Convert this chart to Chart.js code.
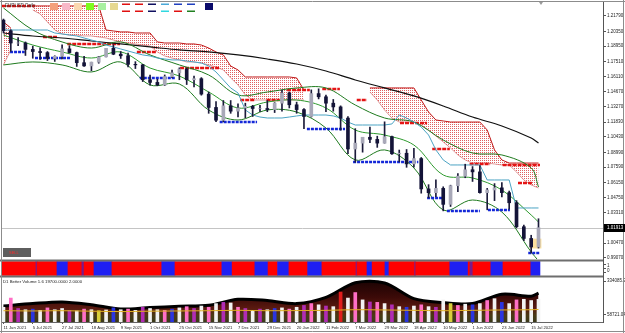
<!DOCTYPE html>
<html lang="en">
<head>
<meta charset="utf-8">
<title>EURUSD Daily</title>
<script src="https://cdn.jsdelivr.net/npm/chart.js@4.4.1/dist/chart.umd.min.js"></script>
<style>
  html, body { margin: 0; padding: 0; background: #ffffff; }
  #chart-wrap { position: relative; width: 625px; height: 333px; overflow: hidden; background: #ffffff; }
  #chart-wrap canvas { position: absolute; left: 0; }
</style>
</head>
<body>
<div id="chart-wrap">
  <canvas id="price-chart" width="625" height="260" style="top:0"></canvas>
  <canvas id="signal-chart" width="625" height="19" style="top:259px"></canvas>
  <canvas id="volume-chart" width="625" height="56" style="top:277px"></canvas>
</div>
<script>
// x labels, one every 4 samples (a sample = 4 daily bars)
const dateLabels = ["11 Jun 2021", "5 Jul 2021", "27 Jul 2021", "18 Aug 2021", "9 Sep 2021", "1 Oct 2021",
  "25 Oct 2021", "15 Nov 2021", "7 Dec 2021", "29 Dec 2021", "20 Jan 2022", "11 Feb 2022", "7 Mar 2022",
  "29 Mar 2022", "18 Apr 2022", "10 May 2022", "1 Jun 2022", "23 Jun 2022", "15 Jul 2022"];

const priceTicks = [1.21790, 1.20350, 1.18950, 1.17510, 1.16110, 1.14670, 1.13270, 1.11830, 1.10430,
  1.08990, 1.07590, 1.06150, 1.04750, 1.03310, 1.00470, 0.99070];

const opens = [1.2140, 1.2040, 1.1925, 1.1925, 1.1865, 1.1845, 1.1835, 1.1780, 1.1800, 1.1870, 1.1835, 1.1740,
  1.1710, 1.1745, 1.1795, 1.1875, 1.1820, 1.1805, 1.1725, 1.1720, 1.1580, 1.1555, 1.1530, 1.1610, 1.1645,
  1.1680, 1.1580, 1.1590, 1.1445, 1.1320, 1.1200, 1.1335, 1.1285, 1.1315, 1.1330, 1.1310, 1.1310, 1.1300,
  1.1360, 1.1455, 1.1345, 1.1300, 1.1235, 1.1450, 1.1420, 1.1360, 1.1325, 1.1220, 1.0930, 1.0985, 1.1040,
  1.1020, 1.0985, 1.1045, 1.0885, 1.0890, 1.0790, 1.0840, 1.0555, 1.0520, 1.0560, 1.0410, 1.0585, 1.0675,
  1.0735, 1.0715, 1.0520, 1.0545, 1.0565, 1.0520, 1.0425, 1.0200, 1.0090, 1.0010];
const highs = [1.2150, 1.2050, 1.1975, 1.1935, 1.1895, 1.1880, 1.1845, 1.1805, 1.1909, 1.1900, 1.1840, 1.1800,
  1.1745, 1.1800, 1.1875, 1.1909, 1.1845, 1.1830, 1.1750, 1.1725, 1.1625, 1.1585, 1.1625, 1.1670, 1.1692,
  1.1690, 1.1615, 1.1600, 1.1465, 1.1375, 1.1385, 1.1385, 1.1355, 1.1360, 1.1340, 1.1340, 1.1385, 1.1365,
  1.1482, 1.1465, 1.1370, 1.1310, 1.1485, 1.1495, 1.1435, 1.1395, 1.1335, 1.1235, 1.1121, 1.1035, 1.1135,
  1.1050, 1.1185, 1.1050, 1.0920, 1.0925, 1.0935, 1.0850, 1.0595, 1.0640, 1.0575, 1.0590, 1.0700, 1.0787,
  1.0765, 1.0775, 1.0560, 1.0605, 1.0615, 1.0535, 1.0445, 1.0215, 1.0120, 1.0275];
const lows = [1.2020, 1.1847, 1.1900, 1.1808, 1.1782, 1.1772, 1.1760, 1.1752, 1.1775, 1.1830, 1.1705, 1.1705,
  1.1664, 1.1735, 1.1795, 1.1815, 1.1780, 1.1700, 1.1685, 1.1563, 1.1530, 1.1524, 1.1525, 1.1600, 1.1580,
  1.1535, 1.1512, 1.1435, 1.1265, 1.1186, 1.1185, 1.1265, 1.1230, 1.1222, 1.1235, 1.1280, 1.1280, 1.1272,
  1.1285, 1.1315, 1.1265, 1.1121, 1.1230, 1.1400, 1.1280, 1.1285, 1.1106, 1.0885, 1.0806, 1.0900, 1.0990,
  1.0945, 1.0985, 1.0880, 1.0810, 1.0758, 1.0760, 1.0515, 1.0471, 1.0483, 1.0349, 1.0390, 1.0530, 1.0660,
  1.0625, 1.0515, 1.0359, 1.0445, 1.0480, 1.0365, 1.0190, 1.0070, 0.9952, 1.0000];
const closes = [1.2040, 1.1925, 1.1925, 1.1865, 1.1845, 1.1835, 1.1780, 1.1800, 1.1870, 1.1835, 1.1740, 1.1710,
  1.1745, 1.1795, 1.1875, 1.1820, 1.1805, 1.1725, 1.1720, 1.1580, 1.1555, 1.1530, 1.1610, 1.1645, 1.1680,
  1.1580, 1.1590, 1.1445, 1.1320, 1.1200, 1.1335, 1.1285, 1.1315, 1.1330, 1.1310, 1.1310, 1.1300, 1.1360,
  1.1455, 1.1345, 1.1300, 1.1235, 1.1450, 1.1420, 1.1360, 1.1325, 1.1220, 1.0930, 1.0985, 1.1040, 1.1020,
  1.0985, 1.1045, 1.0885, 1.0890, 1.0790, 1.0840, 1.0555, 1.0520, 1.0560, 1.0410, 1.0585, 1.0675, 1.0735,
  1.0715, 1.0520, 1.0545, 1.0565, 1.0520, 1.0425, 1.0200, 1.0090, 1.0010, 1.01913];

// sample index of each reading in the indicator lists below
const keyBars = [0, 4, 8, 12, 16, 20, 24, 28, 32, 36, 40, 44, 48, 52, 56, 60, 64, 68, 72, 73];
const slowMa = [1.2019, 1.1991, 1.1972, 1.1944, 1.1916, 1.1888, 1.1860, 1.1841, 1.1813, 1.1775, 1.1728,
  1.1662, 1.1578, 1.1503, 1.1428, 1.1334, 1.1230, 1.1146, 1.1033, 1.0986];
const bandUpper = [1.2254, 1.2047, 1.1935, 1.1878, 1.1935, 1.1813, 1.1719, 1.1625, 1.1437, 1.1465, 1.1503,
  1.1503, 1.1343, 1.1221, 1.1183, 1.1014, 1.0892, 1.0874, 1.0752, 1.0573];
const bandMid = [1.2000, 1.1906, 1.1841, 1.1784, 1.1841, 1.1690, 1.1615, 1.1465, 1.1315, 1.1371, 1.1390,
  1.1315, 1.1108, 1.1061, 1.0967, 1.0686, 1.0658, 1.0545, 1.0310, 1.0244];
const bandLower = [1.1719, 1.1747, 1.1719, 1.1653, 1.1747, 1.1531, 1.1540, 1.1296, 1.1202, 1.1296, 1.1277,
  1.1127, 1.0827, 1.0921, 1.0752, 1.0357, 1.0451, 1.0338, 0.9963, 0.9880];

// light blue base line, one value per sample
const baseLine = [1.2047, 1.2047, 1.2047, 1.2047, 1.2047, 1.2047, 1.2047,
  1.2019, 1.2010, 1.2000, 1.1991, 1.1972, 1.1953, 1.1935,
  1.1906, 1.1888, 1.1869, 1.1850, 1.1831, 1.1813, 1.1803,
  1.1784, 1.1775, 1.1766, 1.1766, 1.1756, 1.1747,
  1.1737, 1.1709, 1.1653, 1.1578, 1.1503, 1.1456,
  1.1296, 1.1249, 1.1230, 1.1221, 1.1221, 1.1221, 1.1230, 1.1240, 1.1249, 1.1249, 1.1249, 1.1249, 1.1240, 1.1221,
  1.1183, 1.1155, 1.1155, 1.1155, 1.1155, 1.1155, 1.1165,
  1.1249, 1.1221, 1.1183,
  1.1136, 1.1061, 1.0921, 1.0827,
  1.0780, 1.0780, 1.0780, 1.0780, 1.0780,
  1.0639, 1.0639, 1.0639, 1.0639,
  1.0376, 1.0376, 1.0376, 1.0376];

// dotted cloud, one value per sample (null = no cloud)
const cloudTop = [1.2122, 1.2066, null, null, 1.2273, 1.2273, 1.2273, 1.2273, 1.2273, 1.2273, 1.2273, 1.2273,
  1.2273, 1.2273, 1.2047, 1.2038, 1.2029, 1.2029, 1.2019, 1.2019, 1.2019, 1.1935, 1.1925, 1.1925, 1.1925,
  1.1916, 1.1916, 1.1906, 1.1878, 1.1841, 1.1813, 1.1709, 1.1672, 1.1606, 1.1606, 1.1606, 1.1606, 1.1606,
  1.1606, 1.1606, 1.1597, 1.1484, null, null, null, null, null, null, null, null, 1.1503, 1.1503, 1.1503,
  1.1503, 1.1503, 1.1503, 1.1503, 1.1390, 1.1277, 1.1202, 1.1193, 1.1183, 1.1183, 1.1183, 1.1183, 1.1183,
  1.1108, 1.0921, 1.0827, 1.0798, 1.0798, 1.0798, 1.0798, 1.0798];
const cloudBottom = [1.1719, 1.1860, null, null, 1.2235, 1.2198, 1.2122, 1.2047, 1.2010, 1.2000, 1.2000, 1.1991,
  1.1991, 1.1982, 1.1972, 1.1953, 1.1935, 1.1925, 1.1916, 1.1906, 1.1897, 1.1841, 1.1803, 1.1784, 1.1766,
  1.1747, 1.1747, 1.1737, 1.1719, 1.1700, 1.1672, 1.1597, 1.1531, 1.1437, 1.1390, 1.1390, 1.1390, 1.1390,
  1.1390, 1.1390, 1.1390, 1.1390, null, null, null, null, null, null, null, null, 1.1465, 1.1390, 1.1296,
  1.1221, 1.1183, 1.1183, 1.1183, 1.1155, 1.1108, 1.1052, 1.0996, 1.0939, 1.0874, 1.0827, 1.0798, 1.0798,
  1.0798, 1.0789, 1.0780, 1.0780, 1.0714, 1.0639, 1.0592, 1.0564];

// [from sample, to sample, price]
const supportLines = [[0.9, 2.9, 1.1841], [4.3, 9.1, 1.1784], [18.6, 23.4, 1.1597], [29.5, 34.6, 1.1183],
  [41.4, 46.6, 1.1118], [47.7, 56.6, 1.0808], [57.8, 60.0, 1.0470], [60.5, 65.0, 1.0348],
  [66.1, 69.1, 1.0357], [71.6, 73.2, 0.9953]];
const resistanceLines = [[-0.2, 4.3, 1.2273], [5.4, 7.3, 1.1982], [8.7, 15.9, 1.1916], [18.2, 20.9, 1.1841],
  [24.1, 29.5, 1.1690], [32.3, 34.3, 1.1390], [35.9, 37.7, 1.1390], [38.7, 41.8, 1.1484],
  [43.5, 45.9, 1.1493], [48.2, 49.6, 1.1390], [54.1, 57.8, 1.1174], [58.5, 60.9, 1.0930],
  [63.6, 66.4, 1.0789], [68.1, 73.2, 1.0780], [70.2, 72.1, 1.0611]];
const highlightBox = [72.6, 0.9999, 1.0085];

// signal strip: [from sample, to sample, state]  S = red, B = blue, X = purple divider
const signalRuns = [[-0.2, 4.43, "S"], [4.43, 4.6, "X"], [4.6, 7.3, "S"], [7.3, 8.8, "B"], [8.8, 10.7, "S"],
  [10.7, 11.0, "X"], [11.0, 12.35, "S"], [12.35, 14.8, "B"], [14.8, 21.6, "S"], [21.6, 23.4, "B"],
  [23.4, 29.8, "S"], [29.8, 31.2, "B"], [31.2, 34.3, "S"], [34.3, 36.1, "B"], [36.1, 37.4, "S"],
  [37.4, 38.95, "B"], [38.95, 41.5, "S"], [41.5, 43.45, "B"], [43.45, 48.1, "S"], [48.1, 48.25, "X"],
  [48.25, 49.6, "S"], [49.6, 50.3, "B"], [50.3, 52.05, "S"], [52.05, 52.6, "B"], [52.6, 56.1, "S"],
  [56.1, 56.25, "X"], [56.25, 60.9, "S"], [60.9, 63.4, "B"], [63.4, 63.65, "S"], [63.65, 64.05, "X"],
  [64.05, 66.5, "S"], [66.5, 68.15, "B"], [68.15, 71.95, "S"], [71.95, 73.2, "B"]];

const volumes = [120000, 195000, 110000, 100000, 105000, 95000, 115000, 100000,
  110000, 95000, 90000, 105000, 100000, 92000, 98000, 115000,
  100000, 105000, 95000, 120000, 110000, 100000, 95000, 105000,
  115000, 125000, 110000, 130000, 120000, 150000, 160000, 155000,
  120000, 110000, 95000, 105000, 100000, 110000, 115000, 105000,
  120000, 135000, 150000, 140000, 130000, 125000, 244000, 195000,
  240000, 180000, 163000, 160000, 150000, 140000, 125000, 120000,
  130000, 140000, 125000, 120000, 180000, 150000, 135000, 145000,
  140000, 150000, 175000, 190000, 160000, 150000, 180000, 185000,
  175000, 185000];
const volumeTypes = ["w", "p", "m", "w", "b", "w", "p", "w", "w", "m", "w", "p", "w", "y", "w", "b",
  "w", "p", "w", "m", "w", "w", "p", "b", "w", "p", "m", "w", "p", "w", "m", "w",
  "p", "m", "w", "m", "w", "b", "w", "p", "w", "m", "p", "w", "m", "w", "r", "w",
  "p", "w", "m", "p", "w", "m", "w", "b", "w", "p", "w", "m", "w", "y", "p", "w",
  "b", "w", "p", "w", "b", "w", "p", "w", "w", "w"];
const volumeEnvelope = [130000, 150000, 163000, 140000, 106000, 118000, 128000, 136000, 185000, 175000,
  150000, 200000, 320000, 318000, 190000, 158000, 150000, 226000, 210000, 236000];
const volumeAvg = [92000, 90000, 92000, 88000, 85000, 88000, 90000, 92000, 95000, 92000, 93000, 95000,
  100000, 98000, 95000, 92000, 95000, 98000, 100000, 102000];
const volumeTicks = [334085.91, 58721.04];

const X_MIN = -0.2;
const X_MAX = 81.8;
const SIGNAL_COLORS = { S: "#ff0000", B: "#1f1ff2", X: "#7a1a8a" };
const VOLUME_COLORS = { w: "#f2f2f2", p: "#ff6fc6", m: "#b02cb4", b: "#2a34e0", r: "#e01c1c", y: "#d8cf3c" };

Chart.defaults.font.family = "'Liberation Sans', Arial, sans-serif";

function keyed(values) {
  return values.map((v, k) => ({ x: keyBars[k], y: v }));
}

function perSample(values) {
  return values.map((v, i) => ({ x: i, y: v }));
}

function segmentData(list) {
  const out = [];
  list.forEach(([a, b, p]) => {
    out.push({ x: a, y: p }, { x: b, y: p }, { x: b, y: null });
  });
  return out;
}

function dotPattern() {
  const c = document.createElement("canvas");
  c.width = 2;
  c.height = 2;
  const g = c.getContext("2d");
  g.fillStyle = "#e06060";
  g.fillRect(0, 0, 1, 1);
  return g.createPattern(c, "repeat");
}

function tinyFont(size) {
  return { size: size, family: "'Liberation Sans', Arial, sans-serif" };
}

function lineSet(data, color, width, order, extra) {
  return Object.assign({
    type: "line", data: data, borderColor: color, borderWidth: width, pointRadius: 0,
    fill: false, tension: 0.35, order: order,
  }, extra || {});
}

const priceDecor = {
  id: "priceDecor",
  beforeDatasetsDraw(chart) {
    const { ctx, chartArea: a, scales } = chart;
    const y = Math.round(scales.y.getPixelForValue(closes[closes.length - 1])) + 0.5;
    ctx.save();
    ctx.strokeStyle = "#c4c4c4";
    ctx.lineWidth = 1;
    ctx.beginPath();
    ctx.moveTo(a.left, y);
    ctx.lineTo(a.right, y);
    ctx.stroke();
    ctx.restore();
  },
  afterDraw(chart) {
    const { ctx, chartArea: a, scales } = chart;
    ctx.save();
    // frame
    ctx.strokeStyle = "#8c8c8c";
    ctx.lineWidth = 1;
    ctx.beginPath();
    ctx.moveTo(0, 1.5); ctx.lineTo(625, 1.5);
    ctx.moveTo(1.5, 0); ctx.lineTo(1.5, 260);
    ctx.moveTo(623.5, 0); ctx.lineTo(623.5, 260);
    ctx.stroke();

    // last price box on the axis
    const last = closes[closes.length - 1];
    const y = Math.round(scales.y.getPixelForValue(last));
    ctx.fillStyle = "#000000";
    ctx.fillRect(a.right + 1, y - 4, 21, 8);
    ctx.fillStyle = "#ffffff";
    ctx.font = "4.5px 'Liberation Sans', Arial, sans-serif";
    ctx.textBaseline = "middle";
    ctx.fillText(last.toFixed(5), a.right + 4, y);

    // title
    ctx.fillStyle = "#303030";
    ctx.font = "4.5px 'Liberation Sans', Arial, sans-serif";
    ctx.fillText("EURUSD,Daily", 5, 6);

    // indicator legend swatches
    const swatches = ["#f4a07a", "#f8b8c8", "#fad8b0", "#7dfc1e", "#a8f0a0", "#e6d890"];
    swatches.forEach((c, k) => {
      ctx.fillStyle = c;
      ctx.fillRect(50 + k * 12, 3, 8, 7);
    });
    const dashTop = ["#e01010", "#e01010", "#101060", "#4aa8d8", "#2040c0", "#2040c0"];
    const dashBot = ["#e01010", "#e01010", "#101060", "#30d8e0", "#e01010", "#208020"];
    dashTop.forEach((c, k) => {
      ctx.fillStyle = c;
      ctx.fillRect(122 + k * 13, 3.5, 8, 1.5);
      ctx.fillStyle = dashBot[k];
      ctx.fillRect(122 + k * 13, 10.5, 8, 1.5);
    });
    ctx.fillStyle = "#0a0a6a";
    ctx.fillRect(205, 3, 8, 7);

    // small status button, bottom left
    ctx.fillStyle = "#5e5e5e";
    ctx.fillRect(3, 248, 28, 9);
    ctx.fillStyle = "#ff2a2a";
    ctx.font = "4px 'Liberation Sans', Arial, sans-serif";
    ctx.fillText("SELL", 9, 252.5);

    // scroll marker top right
    ctx.fillStyle = "#9a9a9a";
    ctx.beginPath();
    ctx.moveTo(539, 2); ctx.lineTo(543, 2); ctx.lineTo(541, 5);
    ctx.fill();
    ctx.restore();
  },
};

function buildPriceChart() {
  const bodies = opens.map((o, i) => ({ x: i, y: [Math.min(o, closes[i]), Math.max(o, closes[i])] }));
  const wicks = lows.map((l, i) => ({ x: i, y: [l, highs[i]] }));
  const bodyFill = opens.map((o, i) => (closes[i] >= o ? "#a8a8b8" : "#141438"));

  new Chart(document.getElementById("price-chart"), {
    type: "bar",
    data: {
      datasets: [
        lineSet(perSample(cloudTop), "#c01818", 1, 20, { fill: "+1", backgroundColor: dotPattern(), tension: 0 }),
        lineSet(perSample(cloudBottom), "#d88080", 0.8, 20, { tension: 0 }),
        { type: "bar", data: [{ x: highlightBox[0], y: [highlightBox[1], highlightBox[2]] }],
          backgroundColor: "#fbe0a0", barThickness: 11, grouped: false, order: 15 },
        lineSet(segmentData(resistanceLines), "#e41414", 2.5, 9, { tension: 0, borderDash: [4, 1], spanGaps: false }),
        lineSet(keyed(slowMa), "#101010", 1.2, 8),
        lineSet(perSample(baseLine), "#4ba3c3", 1, 7, { tension: 0 }),
        lineSet(keyed(bandUpper), "#1e7a1e", 1, 7),
        lineSet(keyed(bandMid), "#2e9a2e", 1, 7),
        lineSet(keyed(bandLower), "#1e7a1e", 1, 7),
        lineSet(segmentData(supportLines), "#1428d8", 2.5, 6, { tension: 0, borderDash: [3, 1], spanGaps: false }),
        { type: "bar", data: wicks, backgroundColor: "#1b1b3a", barThickness: 1, grouped: false, order: 3 },
        { type: "bar", data: bodies, backgroundColor: bodyFill, borderWidth: 0,
          barThickness: 3, grouped: false, order: 2 },
      ],
    },
    options: {
      responsive: false,
      animation: false,
      events: [],
      layout: { padding: { left: 2, top: 2, right: 0, bottom: 1 } },
      plugins: { legend: { display: false }, tooltip: { enabled: false } },
      scales: {
        x: { type: "linear", offset: false, min: X_MIN, max: X_MAX, display: false },
        y: {
          position: "right",
          min: 0.9897,
          max: 1.2310,
          afterBuildTicks: (s) => { s.ticks = priceTicks.map((v) => ({ value: v })); },
          afterFit: (s) => { s.width = 22; s.paddingTop = 0; s.paddingBottom = 0; },
          grid: { drawOnChartArea: false, drawTicks: true, tickLength: 3, color: "#555555" },
          border: { display: true, color: "#555555" },
          ticks: { autoSkip: false, padding: 1, color: "#222222", font: tinyFont(4.5),
            callback: (v) => Number(v).toFixed(5) },
        },
      },
    },
    plugins: [priceDecor],
  });
}

const signalDecor = {
  id: "signalDecor",
  afterDraw(chart) {
    const { ctx, chartArea: a } = chart;
    ctx.save();
    ctx.fillStyle = "#6e6e6e";
    ctx.fillRect(0, 0.5, a.right, 2);
    ctx.fillRect(0, 16.5, a.right, 2);
    ctx.strokeStyle = "#8c8c8c";
    ctx.beginPath();
    ctx.moveTo(1.5, 0); ctx.lineTo(1.5, 19);
    ctx.moveTo(623.5, 0); ctx.lineTo(623.5, 19);
    ctx.stroke();
    ctx.restore();
  },
};

function buildSignalChart() {
  new Chart(document.getElementById("signal-chart"), {
    type: "bar",
    data: {
      labels: ["signal"],
      datasets: [{
        data: signalRuns.map((r) => ({ x: [r[0], r[1]], y: "signal" })),
        backgroundColor: signalRuns.map((r) => SIGNAL_COLORS[r[2]]),
        barThickness: 14,
        grouped: false,
        borderWidth: 0,
      }],
    },
    options: {
      indexAxis: "y",
      responsive: false,
      animation: false,
      events: [],
      layout: { padding: { left: 2, top: 0, right: 0, bottom: 0 } },
      plugins: { legend: { display: false }, tooltip: { enabled: false } },
      scales: {
        x: { type: "linear", offset: false, min: X_MIN, max: X_MAX, display: false },
        y: { type: "category", display: false },
        y2: {
          type: "linear",
          position: "right",
          min: -0.556,
          max: 1.556,
          afterBuildTicks: (s) => { s.ticks = [{ value: 1 }, { value: 0 }]; },
          afterFit: (s) => { s.width = 22; s.paddingTop = 0; s.paddingBottom = 0; },
          grid: { drawOnChartArea: false, tickLength: 3, color: "#555555" },
          border: { display: true, color: "#555555" },
          ticks: { autoSkip: false, padding: 1, color: "#222222", font: tinyFont(4.5) },
        },
      },
    },
    plugins: [signalDecor],
  });
}

function envelopeFill(context) {
  const { ctx, chartArea } = context.chart;
  if (!chartArea) return "rgba(0,0,0,0)";
  const g = ctx.createLinearGradient(0, chartArea.top, 0, chartArea.bottom);
  g.addColorStop(0, "#140202");
  g.addColorStop(0.45, "#3c0a08");
  g.addColorStop(0.7, "#5a1a10");
  g.addColorStop(0.85, "#4a3a14");
  g.addColorStop(1, "#3a3a1a");
  return g;
}

const volumeDecor = {
  id: "volumeDecor",
  afterDraw(chart) {
    const { ctx } = chart;
    ctx.save();
    ctx.fillStyle = "#202020";
    ctx.font = "4.3px 'Liberation Sans', Arial, sans-serif";
    ctx.textBaseline = "middle";
    ctx.fillText("D1 Better Volume 1.6 19700.0000 2.0000", 3, 5);
    ctx.strokeStyle = "#8c8c8c";
    ctx.beginPath();
    ctx.moveTo(1.5, 0); ctx.lineTo(1.5, 56);
    ctx.moveTo(623.5, 0); ctx.lineTo(623.5, 56);
    ctx.moveTo(0, 54.5); ctx.lineTo(625, 54.5);
    ctx.stroke();
    ctx.restore();
  },
};

function buildVolumeChart() {
  new Chart(document.getElementById("volume-chart"), {
    type: "bar",
    data: {
      datasets: [
        lineSet(keyed(volumeEnvelope), "#000000", 3, 3, { fill: "origin", backgroundColor: envelopeFill, tension: 0.3 }),
        { type: "bar", data: perSample(volumes), backgroundColor: volumeTypes.map((t) => VOLUME_COLORS[t]),
          barThickness: 3, grouped: false, order: 2 },
        lineSet(keyed(volumeAvg), "#e0b020", 1, 1, { tension: 0.3 }),
      ],
    },
    options: {
      responsive: false,
      animation: false,
      events: [],
      layout: { padding: { left: 2, top: 0, right: 0, bottom: 0 } },
      plugins: { legend: { display: false }, tooltip: { enabled: false } },
      scales: {
        x: {
          type: "linear",
          offset: false,
          min: X_MIN,
          max: X_MAX,
          position: "bottom",
          afterBuildTicks: (s) => { s.ticks = dateLabels.map((_, k) => ({ value: k * 4 })); },
          afterFit: (s) => { s.height = 11; s.paddingLeft = 0; s.paddingRight = 0; },
          grid: { drawOnChartArea: false, offset: false, tickLength: 2, color: "#555555" },
          border: { display: true, color: "#666666" },
          ticks: { autoSkip: false, maxRotation: 0, align: "start", padding: 1, color: "#222222",
            font: tinyFont(4.2), callback: (v, idx) => dateLabels[idx] },
        },
        y: {
          position: "right",
          min: 0,
          max: 366680,
          afterBuildTicks: (s) => { s.ticks = volumeTicks.map((v) => ({ value: v })); },
          afterFit: (s) => { s.width = 22; s.paddingTop = 0; s.paddingBottom = 0; },
          grid: { drawOnChartArea: false, tickLength: 3, color: "#555555" },
          border: { display: true, color: "#555555" },
          ticks: { autoSkip: false, padding: 1, color: "#222222", font: tinyFont(4.5),
            callback: (v) => Number(v).toFixed(2) },
        },
      },
    },
    plugins: [volumeDecor],
  });
}

buildPriceChart();
buildSignalChart();
buildVolumeChart();
</script>
</body>
</html>
